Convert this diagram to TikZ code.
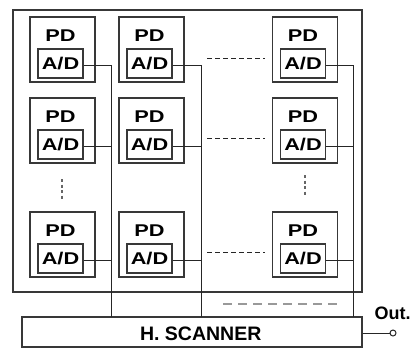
\documentclass[tikz,border=0pt]{standalone}
\usepackage{fontspec}
\setmainfont{Liberation Sans}
\newfontfamily\labfont[FakeStretch=1.28]{Liberation Sans}
\begin{document}
\begin{tikzpicture}[x=1pt,y=-1pt,
  ln/.style={draw=black!78,line width=1.4pt},
  thin/.style={draw=black!85,line width=1pt},
  cell/.style={ln,minimum width=65pt,minimum height=65pt,inner sep=0pt},
  adbox/.style={ln,minimum width=45pt,minimum height=29pt,inner sep=0pt,font=\labfont\fontsize{17}{17}\selectfont\bfseries},
  pd/.style={inner sep=0pt,font=\labfont\fontsize{17}{17}\selectfont\bfseries},
  hdash/.style={draw=black!85,line width=0.8pt,dash pattern=on 5pt off 3pt},
  vdots/.style={draw=black!60,line width=2pt,dash pattern=on 3pt off 2.5pt},
  gdash/.style={draw=black!40,line width=2pt,dash pattern=on 9pt off 6pt}]
\useasboundingbox (0,0) rectangle (412,349);
% outer frame
\node[ln,minimum width=349pt,minimum height=282pt,inner sep=0pt] (frame) at (187.5,151) {};
% cells
\foreach \cx/\j in {62.5/1,151.5/2,305/3}{
  \foreach \cy/\i in {49.5/1,130.5/2,244.5/3}{
    \node[cell] (c-\i-\j) at (\cx,\cy) {};
    \node[adbox] (a-\i-\j) at (\cx-2,\cy+14) {A/D};
    \node[pd] (p-\i-\j) at (\cx-2,\cy-13.5) {PD};
  }
}
% scanner
\node[ln,minimum width=340pt,minimum height=30pt,inner sep=0pt] (scan) at (192,332) {};
\node[inner sep=0pt,font=\fontsize{19.5}{19.5}\selectfont\bfseries] (scantext) at (200.7,333.5) {H. SCANNER};
% vertical bus lines
\coordinate (v1) at (111,317);
\coordinate (v2) at (201,317);
\coordinate (v3) at (353,317);
\draw[thin] ([yshift=-2pt]a-1-1.east) -| (v1);
\draw[thin] ([yshift=-2pt]a-1-2.east) -| (v2);
\draw[thin] ([yshift=-2pt]a-1-3.east) -| (v3);
\foreach \i in {2,3}{
  \draw[thin] ([yshift=-2pt]a-\i-1.east) -- ([yshift=-2pt]a-\i-1.east -| v1);
  \draw[thin] ([yshift=-2pt]a-\i-2.east) -- ([yshift=-2pt]a-\i-2.east -| v2);
  \draw[thin] ([yshift=-2pt]a-\i-3.east) -- ([yshift=-2pt]a-\i-3.east -| v3);
}
% horizontal dashed continuation lines
\coordinate (h1a) at (207,58);  \coordinate (h1b) at (265,58);
\coordinate (h2a) at (207,138); \coordinate (h2b) at (265,138);
\coordinate (h3a) at (207,252); \coordinate (h3b) at (265,252);
\draw[hdash] (h1a) -- (h1b);
\draw[hdash] (h2a) -- (h2b);
\draw[hdash] (h3a) -- (h3b);
% vertical dots
\coordinate (d1a) at (62,179); \coordinate (d1b) at (62,200);
\coordinate (d3a) at (305,175); \coordinate (d3b) at (305,196);
\draw[vdots] (d1a) -- (d1b);
\draw[vdots] (d3a) -- (d3b);
% gray dashed line
\coordinate (g1) at (223,304); \coordinate (g2) at (338,304);
\draw[gdash] (g1) -- (g2);
% output
\node[circle,draw=black!85,line width=1pt,minimum size=6pt,inner sep=0pt] (out) at (393,333) {};
\draw[thin] (scan.east |- out) -- (out);
\node[inner sep=0pt,font=\fontsize{18}{18}\selectfont\bfseries] (outlabel) at (392.5,313.5) {Out.};
\end{tikzpicture}
\end{document}
